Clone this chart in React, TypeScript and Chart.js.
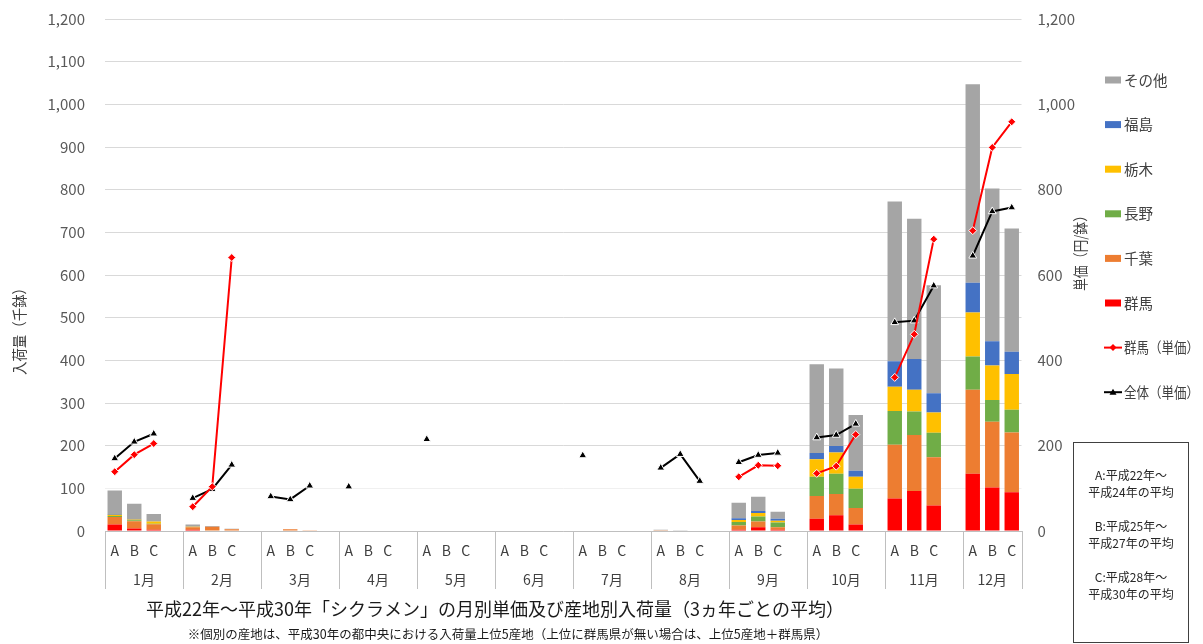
import React, { useEffect, useRef } from 'react';
import { Chart, registerables } from 'chart.js';

Chart.register(...registerables);

const FONT = "'Noto Sans CJK JP', 'Noto Sans', sans-serif";

// Months and the three averaging periods shown under each month
const months = ['1月', '2月', '3月', '4月', '5月', '6月', '7月', '8月', '9月', '10月', '11月', '12月'];
const periods = ['A', 'B', 'C'];

// 入荷量（千鉢）, 12 months x periods A, B, C
const gunma = [15, 6, 3, 3, 1, 0, 0, 0, 0, 0, 0, 0, 0, 0, 0, 0, 0, 0, 0, 0, 0, 0, 0, 0, 3, 9, 3, 29, 37, 15, 76, 94, 60, 134, 102, 91];
const chiba = [18, 17, 13, 6, 9, 4, 0, 4, 2, 0, 0, 0, 0, 0, 0, 0, 0, 0, 0, 0, 0, 2, 0, 0, 10, 13, 6, 53, 50, 39, 126, 131, 113, 197, 154, 140];
const nagano = [2, 2, 1, 0, 0, 0, 0, 0, 0, 0, 0, 0, 0, 0, 0, 0, 0, 0, 0, 0, 0, 0, 1, 0, 8, 12, 11, 45, 47, 45, 79, 55, 57, 78, 51, 53];
const tochigi = [3, 2, 5, 1, 0, 0, 0, 0, 0, 0, 0, 0, 0, 0, 0, 0, 0, 0, 0, 0, 0, 0, 0, 0, 5, 8, 4, 41, 50, 28, 57, 51, 48, 103, 81, 84];
const fukushima = [2, 1, 1, 0, 0, 0, 0, 0, 0, 0, 0, 0, 0, 0, 0, 0, 0, 0, 0, 0, 0, 0, 0, 0, 4, 5, 5, 15, 15, 14, 60, 72, 45, 70, 57, 52];
const others = [55, 36, 17, 5, 2, 1, 0, 0, 0, 0, 0, 0, 0, 0, 0, 0, 0, 0, 0, 0, 0, 1, 1, 1, 36, 33, 16, 208, 182, 131, 374, 329, 253, 465, 358, 289];

// 単価（円/鉢）
const priceGunma = [139, 179, 205, 57, 104, 641, null, null, null, null, null, null, null, null, null, null, null, null, null, null, null, null, null, null, 127, 154, 153, 135, 152, 226, 360, 461, 684, 704, 899, 959];
const priceAll = [170, 209, 228, 77, 98, 155, 81, 74, 106, 104, null, null, 215, null, null, null, null, null, 177, null, null, 148, 180, 117, 161, 178, 183, 219, 225, 251, 489, 493, 575, 645, 749, 758];

// Tick values
const leftTicks = [0, 100, 200, 300, 400, 500, 600, 700, 800, 900, 1000, 1100, 1200];
const rightTicks = [0, 200, 400, 600, 800, 1000, 1200];

const noteLines = [
  ['A:平成22年～', '平成24年の平均'],
  ['B:平成25年～', '平成27年の平均'],
  ['C:平成28年～', '平成30年の平均'],
];

// Each month gets three period slots plus an empty spacer slot (none after December)
function withSpacers<T>(values: T[], spacer: T): T[] {
  const out: T[] = [];
  months.forEach((_, m) => {
    for (let p = 0; p < periods.length; p++) out.push(values[m * 3 + p]);
    if (m < months.length - 1) out.push(spacer);
  });
  return out;
}

const slotLabels = withSpacers(months.flatMap(() => periods), '');

const barSeries = [
  { label: '群馬', data: gunma, color: '#ff0000' },
  { label: '千葉', data: chiba, color: '#ed7d31' },
  { label: '長野', data: nagano, color: '#70ad47' },
  { label: '栃木', data: tochigi, color: '#ffc000' },
  { label: '福島', data: fukushima, color: '#4472c4' },
  { label: 'その他', data: others, color: '#a5a5a5' },
];

const lineSeries = [
  { label: '群馬（単価）', data: priceGunma, color: '#ff0000', marker: 'rectRot', radius: 4 },
  { label: '全体（単価）', data: priceAll, color: '#000000', marker: 'triangle', radius: 4.5 },
];

const decorPlugin = {
  id: 'decor',
  afterDraw(chart: any) {
    const { ctx, chartArea, scales } = chart;
    const x = scales.x;
    const n = slotLabels.length;
    const slot = (x.right - x.left) / n;
    const bottom = chartArea.bottom;

    ctx.save();
    // category separators below the axis
    ctx.strokeStyle = '#bfbfbf';
    ctx.lineWidth = 1;
    const sepX: number[] = [];
    months.forEach((_, m) => sepX.push(x.getPixelForValue(m * 4) - slot / 2));
    sepX.push(x.getPixelForValue(n - 1) + slot / 2);
    sepX.forEach((sx) => {
      const px = Math.round(sx) + 0.5;
      ctx.beginPath();
      ctx.moveTo(px, bottom);
      ctx.lineTo(px, bottom + 58);
      ctx.stroke();
    });

    // period and month labels
    ctx.fillStyle = '#404040';
    ctx.textAlign = 'center';
    ctx.textBaseline = 'middle';
    ctx.font = `14px ${FONT}`;
    slotLabels.forEach((lab, i) => {
      if (lab) ctx.fillText(lab, x.getPixelForValue(i), bottom + 20);
    });
    months.forEach((m, mi) => {
      const cx = (sepX[mi] + sepX[mi + 1]) / 2;
      ctx.fillText(m, cx, bottom + 49);
    });

    // axis titles
    ctx.font = `15px ${FONT}`;
    ctx.fillStyle = '#404040';
    ctx.save();
    ctx.translate(19, 328);
    ctx.rotate(-Math.PI / 2);
    ctx.fillText('入荷量（千鉢）', 0, 0, 94);
    ctx.restore();
    ctx.save();
    ctx.translate(1080, 250);
    ctx.rotate(-Math.PI / 2);
    ctx.fillText('単価（円/鉢）', 0, 0, 82);
    ctx.restore();

    // legend
    const legendItems = [
      ...barSeries.slice().reverse().map((s) => ({ ...s, kind: 'bar' })),
      ...lineSeries.map((s) => ({ ...s, kind: 'line' })),
    ];
    ctx.font = `14.5px ${FONT}`;
    ctx.textAlign = 'left';
    legendItems.forEach((it: any, i) => {
      const ly = 80 + i * 44.6;
      if (it.kind === 'bar') {
        ctx.fillStyle = it.color;
        ctx.fillRect(1105, ly - 3.5, 16, 7);
      } else {
        ctx.strokeStyle = it.color;
        ctx.lineWidth = 2;
        ctx.beginPath();
        ctx.moveTo(1104, ly);
        ctx.lineTo(1122, ly);
        ctx.stroke();
        ctx.fillStyle = it.color;
        ctx.beginPath();
        if (it.marker === 'rectRot') {
          ctx.moveTo(1113, ly - 3.5);
          ctx.lineTo(1116.5, ly);
          ctx.lineTo(1113, ly + 3.5);
          ctx.lineTo(1109.5, ly);
        } else {
          ctx.moveTo(1113, ly - 3.5);
          ctx.lineTo(1116.5, ly + 2.5);
          ctx.lineTo(1109.5, ly + 2.5);
        }
        ctx.closePath();
        ctx.fill();
      }
      ctx.fillStyle = '#404040';
      ctx.fillText(it.label, 1124, ly, 75);
    });

    // notes box
    ctx.strokeStyle = '#404040';
    ctx.lineWidth = 1;
    ctx.strokeRect(1073.5, 442.5, 115, 200);
    ctx.font = `12px ${FONT}`;
    ctx.textAlign = 'center';
    ctx.fillStyle = '#262626';
    noteLines.forEach((pair, i) => {
      ctx.fillText(pair[0], 1131, 475 + i * 51);
      ctx.fillText(pair[1], 1131, 492 + i * 51);
    });

    // titles
    ctx.fillStyle = '#1a1a1a';
    ctx.font = `18px ${FONT}`;
    ctx.fillText('平成22年～平成30年「シクラメン」の月別単価及び産地別入荷量（3ヵ年ごとの平均）', 495, 609);
    ctx.font = `12.5px ${FONT}`;
    ctx.fillText('※個別の産地は、平成30年の都中央における入荷量上位5産地（上位に群馬県が無い場合は、上位5産地＋群馬県）', 508, 634);
    ctx.restore();
  },
};

export default function App() {
  const canvasRef = useRef<HTMLCanvasElement | null>(null);

  useEffect(() => {
    const canvas = canvasRef.current;
    if (!canvas) return;

    const datasets: any[] = [
      ...lineSeries.map((s) => ({
        type: 'line',
        label: s.label,
        data: withSpacers<number | null>(s.data, null),
        yAxisID: 'y1',
        borderColor: s.color,
        backgroundColor: s.color,
        borderWidth: 2,
        pointStyle: s.marker,
        pointRadius: s.radius,
        pointBorderColor: '#ffffff',
        pointBorderWidth: 1,
        pointBackgroundColor: s.color,
        spanGaps: false,
        tension: 0,
        order: 0,
      })),
      ...barSeries.map((s) => ({
        type: 'bar',
        label: s.label,
        data: withSpacers<number | null>(s.data, null),
        yAxisID: 'y',
        backgroundColor: s.color,
        borderWidth: 0,
        stack: 'arrivals',
        categoryPercentage: 1,
        barPercentage: 0.74,
        order: 1,
      })),
    ];

    const chart = new Chart(canvas, {
      type: 'bar',
      data: { labels: slotLabels, datasets },
      options: {
        responsive: false,
        animation: false,
        devicePixelRatio: 1,
        layout: { padding: { top: 19, left: 0, right: 0, bottom: 0 } },
        plugins: {
          legend: { display: false },
          tooltip: { enabled: false },
          title: { display: false },
        },
        scales: {
          x: {
            stacked: true,
            ticks: { display: false },
            grid: { display: false },
            border: { display: true, color: '#bfbfbf', width: 1 },
            afterFit: (s: any) => {
              s.height = 113;
            },
          },
          y: {
            stacked: true,
            position: 'left',
            min: 0,
            max: 1200,
            afterBuildTicks: (s: any) => {
              s.ticks = leftTicks.map((v) => ({ value: v }));
            },
            ticks: {
              padding: 0,
              color: '#595959',
              font: { family: FONT, size: 15 },
              callback: (v: any) => Number(v).toLocaleString('en-US'),
            },
            grid: {
              drawTicks: true,
              tickLength: 20,
              tickColor: 'rgba(0,0,0,0)',
              color: (c: any) => (c.tick && c.tick.value === 100 ? '#f0f0f0' : '#d9d9d9'),
            },
            border: { display: false },
            afterFit: (s: any) => {
              s.width = 105;
            },
          },
          y1: {
            position: 'right',
            min: 0,
            max: 1200,
            afterBuildTicks: (s: any) => {
              s.ticks = rightTicks.map((v) => ({ value: v }));
            },
            ticks: {
              padding: 0,
              color: '#595959',
              font: { family: FONT, size: 15 },
              callback: (v: any) => Number(v).toLocaleString('en-US'),
            },
            grid: {
              display: true,
              drawOnChartArea: false,
              drawTicks: true,
              tickLength: 16,
              tickColor: 'rgba(0,0,0,0)',
            },
            border: { display: false },
            afterFit: (s: any) => {
              s.width = 181.5;
            },
          },
        },
      },
      plugins: [decorPlugin],
    });

    return () => chart.destroy();
  }, []);

  return (
    <div style={{ position: 'absolute', left: 0, top: 0, width: 1203, height: 644, background: '#fff' }}>
      <canvas ref={canvasRef} width={1203} height={644} style={{ display: 'block' }} />
    </div>
  );
}
